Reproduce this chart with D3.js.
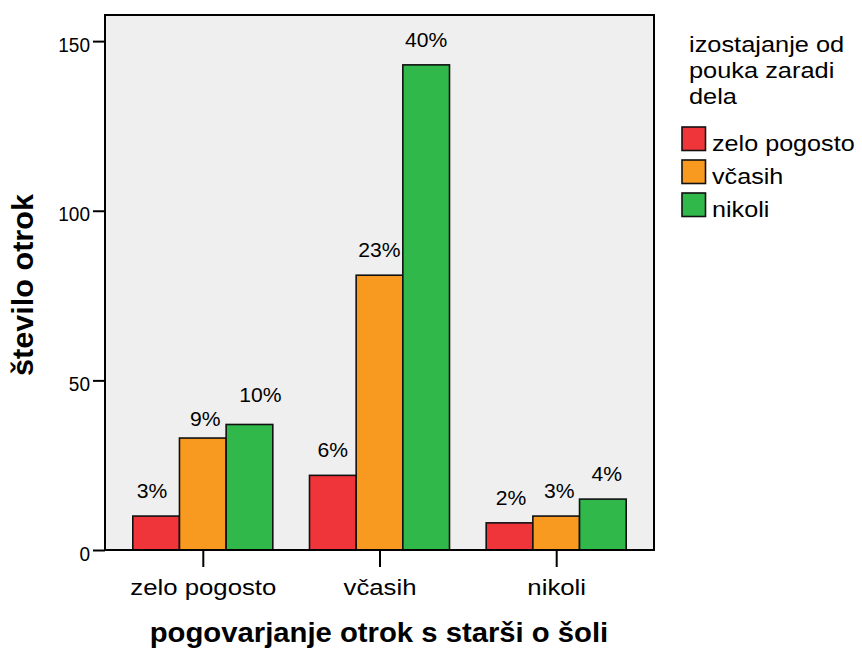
<!DOCTYPE html>
<html><head><meta charset="utf-8">
<script src="https://cdn.jsdelivr.net/npm/d3@7"></script>
<style>
body{margin:0;background:#fff}
svg text{font-family:"Liberation Sans",Arial,sans-serif;fill:#000}
</style>
</head><body>
<svg id="c" width="862" height="649"></svg>
<script>
// ---- data ----
const categories = ["zelo pogosto", "včasih", "nikoli"];
const seriesNames = ["zelo pogosto", "včasih", "nikoli"];
const zeloPogosto = [10, 22, 8];
const vcasih = [33, 81, 10];
const nikoli = [37, 143, 15];
const pctZeloPogosto = ["3%", "6%", "2%"];
const pctVcasih = ["9%", "23%", "3%"];
const pctNikoli = ["10%", "40%", "4%"];
const yTicks = [0, 50, 100, 150];
const legendTitle = ["izostajanje od", "pouka zaradi", "dela"];
const xTitle = "pogovarjanje otrok s starši o šoli";
const yTitle = "število otrok";

const seriesValues = [zeloPogosto, vcasih, nikoli];
const seriesPct = [pctZeloPogosto, pctVcasih, pctNikoli];
const colors = ["#ef343a", "#f89a1f", "#30b84b"];

// ---- layout ----
const L = 105, R = 654, T = 15, B = 550;
const svg = d3.select("#c");

function stretch(sel, sx) {
  sel.each(function () {
    const len = this.getComputedTextLength();
    this.setAttribute("textLength", len * sx);
    this.setAttribute("lengthAdjust", "spacingAndGlyphs");
  });
}

const y = d3.scaleLinear().domain([0, 157.7]).range([B, T]);
const x0 = d3.scalePoint().domain(categories).range([L, R]).padding(0.5535);
const x1 = d3.scaleBand().domain(seriesNames).range([-70, 70]);

// plot background
svg.append("rect").attr("x", L).attr("y", T).attr("width", R - L).attr("height", B - T)
  .attr("fill", "#efefef");

// bars
const rows = [];
categories.forEach((c, i) => seriesNames.forEach((s, j) => rows.push({c, s, i, j, v: seriesValues[j][i], p: seriesPct[j][i]})));

svg.append("g").selectAll("rect").data(rows).join("rect")
  .attr("x", d => x0(d.c) + x1(d.s))
  .attr("y", d => y(d.v))
  .attr("width", x1.bandwidth())
  .attr("height", d => y(0) - y(d.v))
  .attr("fill", d => colors[d.j])
  .attr("stroke", "#111")
  .attr("stroke-width", 1.6);

// label nudges to avoid collisions (layout only)
const nudge = {"0-0": [-4, 0], "0-1": [2.5, 6], "0-2": [11, -4], "2-0": [1.5, 0], "2-1": [3, 0], "2-2": [4, 0]};
const lbl = svg.append("g").selectAll("text").data(rows).join("text")
  .attr("x", d => x0(d.c) + x1(d.s) + x1.bandwidth() / 2 + ((nudge[d.i + "-" + d.j] || [0, 0])[0]))
  .attr("y", d => y(d.v) - 18 + ((nudge[d.i + "-" + d.j] || [0, 0])[1]))
  .attr("text-anchor", "middle")
  .style("font-size", "20.5px")
  .text(d => d.p);
stretch(lbl, 1.03);

// frame
svg.append("rect").attr("x", L).attr("y", T).attr("width", R - L).attr("height", B - T)
  .attr("fill", "none").attr("stroke", "#000").attr("stroke-width", 2);

// y axis
const ya = svg.append("g").attr("transform", `translate(${L},0)`)
  .call(d3.axisLeft(y).tickValues(yTicks).tickSize(12).tickPadding(3));
ya.select(".domain").remove();
ya.selectAll("line").attr("stroke", "#000").attr("stroke-width", 2);
const yt = ya.selectAll("text").style("font-size", "20px").style("font-family", "'Liberation Sans',Arial,sans-serif")
  .attr("dy", "0.5em");
stretch(yt, 0.95);

// x axis
const xa = svg.append("g").attr("transform", `translate(0,${B})`)
  .call(d3.axisBottom(x0).tickSize(17));
xa.select(".domain").remove();
xa.selectAll("line").attr("stroke", "#000").attr("stroke-width", 2);
const xt = xa.selectAll("text").style("font-size", "22px").style("font-family", "'Liberation Sans',Arial,sans-serif")
  .attr("y", 45).attr("dy", 0);
stretch(xt, 1.17);

// axis titles
const xT = svg.append("text").attr("x", 379).attr("y", 642).attr("text-anchor", "middle")
  .style("font-size", "28px").style("font-weight", "bold").text(xTitle);
stretch(xT, 1.045);
const yT = svg.append("text").attr("transform", "translate(33,285) rotate(-90)").attr("text-anchor", "middle")
  .style("font-size", "30px").style("font-weight", "bold").text(yTitle);
stretch(yT, 1.02);

// legend
const lg = svg.append("g");
const lt = lg.selectAll("text.t").data(legendTitle).join("text").attr("class", "t")
  .attr("x", 689).attr("y", (d, i) => 52 + i * 26)
  .style("font-size", "21.5px").text(d => d);
stretch(lt, 1.18);
const items = lg.selectAll("g.it").data(seriesNames).join("g").attr("class", "it")
  .attr("transform", (d, i) => `translate(682,${127 + i * 33})`);
items.append("rect").attr("width", 23.5).attr("height", 23.5)
  .attr("fill", (d, i) => colors[i]).attr("stroke", "#111").attr("stroke-width", 1.6);
const li = items.append("text").attr("x", 30).attr("y", 23.5).style("font-size", "21.5px").text(d => d);
stretch(li, 1.17);
</script>
</body></html>
